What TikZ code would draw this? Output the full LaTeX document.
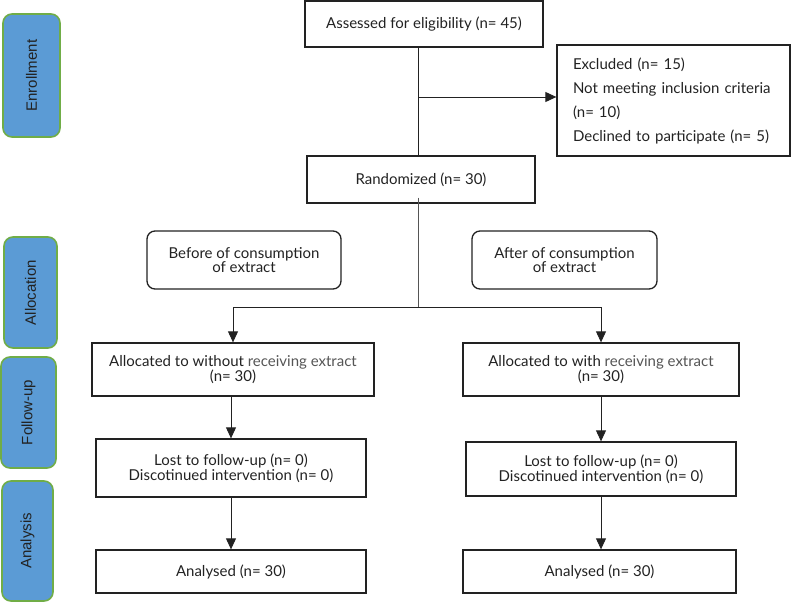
\documentclass[tikz,border=0pt]{standalone}
\usepackage{fontspec}
\setmainfont{Lato}
\newfontfamily\phasefont{Liberation Sans}
\usepackage{tikz}
\usetikzlibrary{arrows.meta,shapes}
\usepackage{xcolor}
\definecolor{phaseblue}{HTML}{5B9BD5}
\definecolor{phasegreen}{HTML}{70AD47}
\definecolor{ink}{HTML}{222222}
\definecolor{softink}{HTML}{555555}

\begin{document}
\begin{tikzpicture}[x=1pt,y=-1pt,font=\fontsize{15}{15}\selectfont,
  >={Triangle[length=11pt,width=10pt]},
  box/.style={draw=ink,line width=1.3pt,inner sep=0pt,align=center,text=ink},
  roundbox/.style={box,rounded corners=8pt},
  phase/.style={draw=phasegreen,line width=1.6pt,fill=phaseblue,rounded corners=9pt,
    inner sep=0pt,rotate=90,font=\phasefont\fontsize{15}{18}\selectfont,text=ink},
  link/.style={draw=ink,line width=0.9pt}]
\useasboundingbox (0,0) rectangle (800,605);
% phases on the left
\node [phase,minimum width=123,minimum height=57] (enrol) at (31.5,75.5) {Enrollment};
\node [phase,minimum width=111,minimum height=53] (alloc) at (30.5,292.5) {Allocation};
\node [phase,minimum width=111,minimum height=55] (follow) at (28.5,412.5) {Follow-up};
\node [phase,minimum width=120,minimum height=51] (anal) at (27.5,541) {Analysis};
% enrollment
\node [box,minimum width=238,minimum height=46] (assess) at (424,24) {Assessed for eligibility (n= 45)};
\node [box,minimum width=233,minimum height=111,text width=201,align=left,
  font=\fontsize{15}{24}\selectfont] (excl) at (673.5,100.5)
  {Excluded (n= 15)\\Not meeting inclusion criteria\\(n= 10)\\Declined to participate (n= 5)};
\node [box,minimum width=228,minimum height=47] (rand) at (421,179.5) {Randomized (n= 30)};
\coordinate (trunk) at (418,97);
\coordinate (split) at (418,307);
\draw [link] (assess.south -| trunk) -- (rand.north -| trunk);
\draw [link,->] (trunk) -- (trunk -| excl.west);
% allocation
\node [roundbox,minimum width=194,minimum height=58,font=\fontsize{15}{13.5}\selectfont] (before) at (244,260) {Before of consumption\\of extract};
\node [roundbox,minimum width=185,minimum height=58,font=\fontsize{15}{13.5}\selectfont] (after) at (564.5,260) {After of consumption\\of extract};
\node [box,minimum width=282,minimum height=53] (allocA) at (233,369.5)
  {Allocated to without {\color{softink}receiving extract}\\(n= 30)};
\node [box,minimum width=276,minimum height=53] (allocB) at (601,369.5)
  {Allocated to with {\color{softink}receiving extract}\\(n= 30)};
\draw [link,draw=softink,line width=0.7pt] ([yshift=6pt]rand.south -| split) -- (split);
\draw [link,->] (split) -| (allocA.north);
\draw [link,->] (split) -| (allocB.north);
% follow-up
\node [box,minimum width=270,minimum height=58] (lostA) at (231,468) {Lost to follow-up (n= 0)\\Discotinued intervention (n= 0)};
\node [box,minimum width=270,minimum height=54] (lostB) at (601,469) {Lost to follow-up (n= 0)\\Discotinued intervention (n= 0)};
\draw [link,->] (allocA.south -| lostA) -- (lostA.north);
\draw [link,->] (allocB.south) -- (lostB.north);
% analysis
\node [box,minimum width=270,minimum height=43] (resA) at (231,571.5) {Analysed (n= 30)};
\node [box,minimum width=273,minimum height=43] (resB) at (599.5,571.5) {Analysed (n= 30)};
\draw [link,->] (lostA.south) -- (resA.north -| lostA);
\draw [link,->] (lostB.south) -- (resB.north -| lostB);
\end{tikzpicture}
\end{document}
